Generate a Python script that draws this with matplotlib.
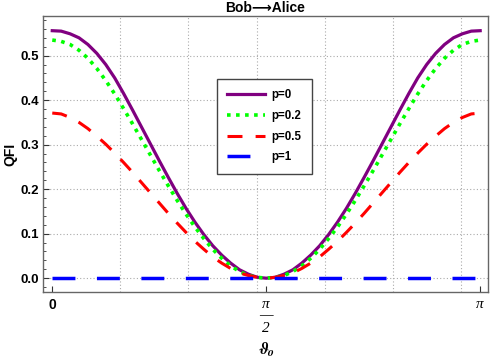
import numpy as np
import matplotlib
matplotlib.use("Agg")
import matplotlib.pyplot as plt

# angle grid (0 .. pi, step pi/48) and values
theta = np.linspace(0, np.pi, 49)

qfi_p0 = [0.556, 0.555, 0.549, 0.540, 0.525, 0.505, 0.480, 0.450, 0.415, 0.378, 0.340, 0.302,
          0.264, 0.227, 0.191, 0.157, 0.126, 0.098, 0.073, 0.052, 0.034, 0.019, 0.009, 0.002,
          0.0,
          0.002, 0.009, 0.019, 0.034, 0.052, 0.073, 0.098, 0.126, 0.157, 0.191, 0.227, 0.264,
          0.302, 0.340, 0.378, 0.415, 0.450, 0.480, 0.505, 0.525, 0.540, 0.549, 0.555, 0.556]
qfi_p02 = [0.535, 0.532, 0.525, 0.512, 0.494, 0.471, 0.444, 0.414, 0.381, 0.347, 0.312, 0.277,
           0.242, 0.208, 0.175, 0.144, 0.115, 0.089, 0.065, 0.045, 0.028, 0.015, 0.006, 0.002,
           0.0,
           0.002, 0.006, 0.015, 0.028, 0.045, 0.065, 0.089, 0.115, 0.144, 0.175, 0.208, 0.242,
           0.277, 0.312, 0.347, 0.381, 0.414, 0.444, 0.471, 0.494, 0.512, 0.525, 0.532, 0.535]
qfi_p05 = [0.371, 0.369, 0.361, 0.350, 0.336, 0.319, 0.301, 0.281, 0.260, 0.238, 0.215, 0.192,
           0.169, 0.146, 0.124, 0.103, 0.083, 0.065, 0.048, 0.034, 0.022, 0.012, 0.006, 0.002,
           0.0,
           0.002, 0.006, 0.012, 0.022, 0.034, 0.048, 0.065, 0.083, 0.103, 0.124, 0.146, 0.169,
           0.192, 0.215, 0.238, 0.260, 0.281, 0.301, 0.319, 0.336, 0.350, 0.361, 0.369, 0.371]
qfi_p1 = [0.0] * 49

labels = ["p=0", "p=0.2", "p=0.5", "p=1"]
colors = ["#800080", "#00ff00", "#ff0000", "#0000ff"]

plt.rcParams['font.family'] = ['Liberation Sans', 'DejaVu Sans']
plt.rcParams['font.weight'] = 'bold'
plt.rcParams['mathtext.fontset'] = 'stix'

fig = plt.figure(figsize=(4.9, 3.58), dpi=100)
ax = fig.add_axes([43 / 490, 1 - 292 / 358, 445 / 490, 276 / 358])

# dotted grid
for gx in [0.5, 1.0, 1.5, 2.0, 2.5, 3.0]:
    ax.axvline(gx, color='#aaaaaa', lw=0.8, ls=(0, (1, 2)), zorder=0)
for gy in [0.0, 0.1, 0.2, 0.3, 0.4, 0.5]:
    ax.axhline(gy, color='#aaaaaa', lw=0.8, ls=(0, (1, 2)), zorder=0)

ax.plot(theta, qfi_p0, color=colors[0], lw=2.3, label=labels[0], solid_joinstyle='round')
ax.plot(theta, qfi_p02, color=colors[1], lw=2.6, ls=(0, (1, 1.5)), label=labels[1],
        dash_capstyle='butt')
ax.plot(theta, qfi_p05, color=colors[2], lw=2.2, ls=(0, (4.9, 4.3)), label=labels[2],
        dash_capstyle='butt')
ax.plot(theta, qfi_p1, color=colors[3], lw=2.5, ls=(0, (6.6, 6.2)), label=labels[3],
        dash_capstyle='butt')

ax.set_xlim(-0.068, 3.199)
ax.set_ylim(-0.031, 0.589)

for s in ax.spines.values():
    s.set_color('#666666')
    s.set_linewidth(1.0)

ax.set_yticks([0.0, 0.1, 0.2, 0.3, 0.4, 0.5])
ax.set_yticklabels(["0.0", "0.1", "0.2", "0.3", "0.4", "0.5"], fontsize=9.5, fontweight='bold')
ax.set_yticks(np.arange(-0.02, 0.59, 0.02), minor=True)
ax.tick_params(axis='y', which='major', direction='in', length=4.5, width=0.8, color='#333333', pad=3)
ax.tick_params(axis='y', which='minor', direction='in', length=2.5, width=0.6, color='#333333')

ax.set_xticks([0, np.pi / 2, np.pi])
ax.set_xticklabels(["0", "π\n—\n2", "π"])
ax.tick_params(axis='x', which='major', direction='in', length=4, width=0.8, color='#333333', pad=4)
xl = ax.get_xticklabels()
xl[0].set_fontsize(10)
xl[0].set_fontweight('bold')
for t in xl[1:]:
    t.set_family('Liberation Serif')
    t.set_style('italic')
    t.set_fontweight('normal')
    t.set_fontsize(11)
    t.set_linespacing(0.9)

ax.set_ylabel("QFI", fontsize=10, fontweight='bold', labelpad=2)
ax.set_title("Bob⟶Alice", fontsize=10, fontweight='bold', pad=3)
fig.text(266 / 490, 1 - 350 / 358, r"$\vartheta_o$", fontsize=12, ha='center', va='center')

leg = ax.legend(loc='upper left', bbox_to_anchor=((217 - 43) / 445, 1 - (79 - 16) / 276),
                borderaxespad=0, fancybox=False, framealpha=1, edgecolor='#444444',
                prop={'weight': 'bold', 'size': 8.3}, handlelength=3.3, handletextpad=0.5,
                labelspacing=0.75, borderpad=0.9)
leg.get_frame().set_linewidth(1.0)

fig.savefig("out.png", dpi=100)
